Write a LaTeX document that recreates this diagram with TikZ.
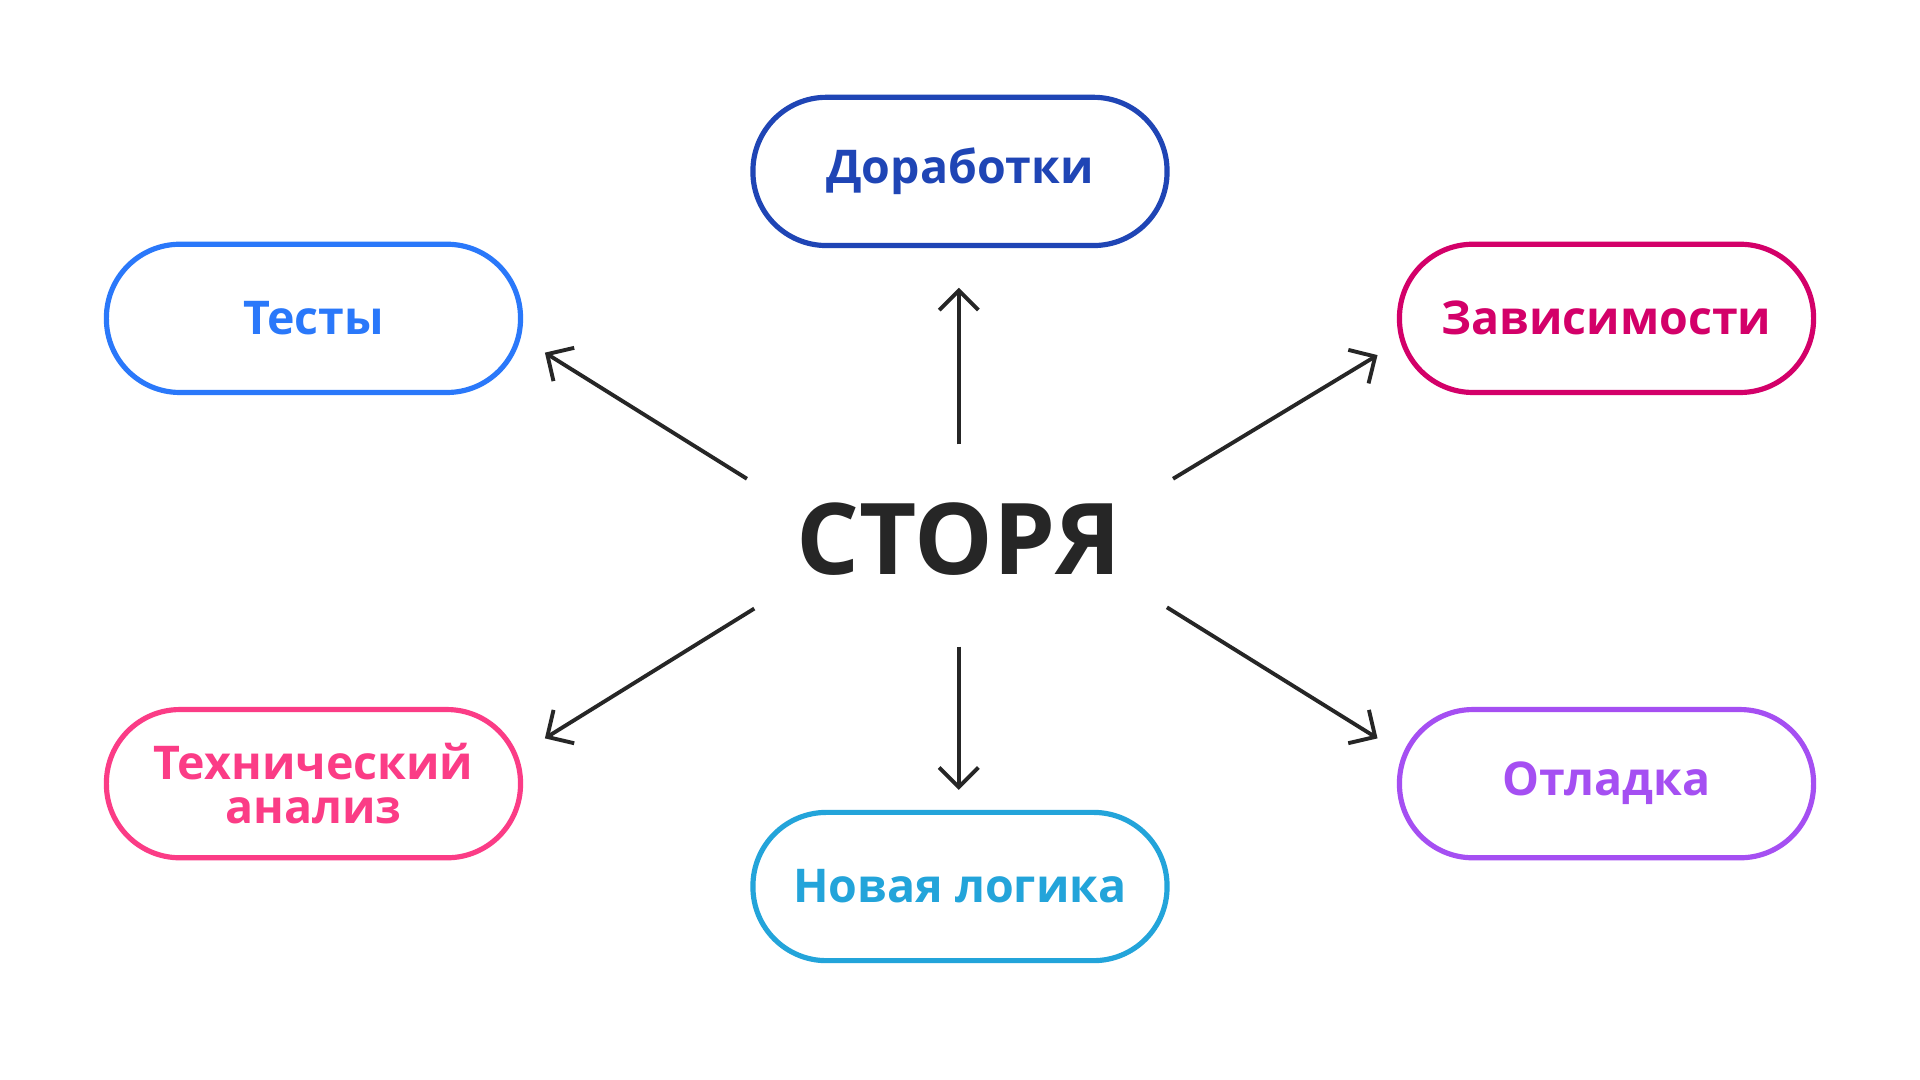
\documentclass[tikz,border=0pt]{standalone}
\usepackage{fontspec}
\setmainfont{Open Sans}
\usetikzlibrary{arrows.meta}
\definecolor{cA}{HTML}{1F45B5}
\definecolor{cB}{HTML}{2A78FA}
\definecolor{cC}{HTML}{D30069}
\definecolor{cD}{HTML}{FB3C86}
\definecolor{cE}{HTML}{A54FF2}
\definecolor{cF}{HTML}{23A4DA}
\definecolor{ink}{HTML}{262626}
\tikzset{
  pill/.style={draw=#1, text=#1, line width=1.2pt, rounded corners=0.6cm, minimum width=3.38cm, minimum height=1.21cm, font=\fontsize{10.8pt}{10.4pt}\selectfont\bfseries, align=center, fill=white},
  arr/.style={draw=ink, line width=0.9pt, -{Straight Barb[length=1.6mm,width=3.2mm]}}
}
\begin{document}
\begin{tikzpicture}[x=0.01cm,y=-0.01cm]
\useasboundingbox[fill=white] (0,0) rectangle (1568,882);
\node[pill=cA] (dor) at (784,140) {Доработки};
\node[pill=cB] (tes) at (256,260) {Тесты};
\node[pill=cC] (zav) at (1312,260) {Зависимости};
\node[pill=cD] (teh) at (256,640) {Технический\\анализ};
\node[pill=cE] (otl) at (1312,640) {Отладка};
\node[pill=cF] (nov) at (784,724) {Новая логика};
\node[text=ink, font=\fontsize{23pt}{26pt}\selectfont\bfseries] (st) at (783,440) {СТОРЯ};
\coordinate (s1) at (783,363); \coordinate (e1) at (783,235);
\coordinate (s2) at (783,528); \coordinate (e2) at (783,645);
\coordinate (s3) at (610,391); \coordinate (e3) at (445,288);
\coordinate (s4) at (958,391); \coordinate (e4) at (1125,290);
\coordinate (s5) at (616,497); \coordinate (e5) at (445,603);
\coordinate (s6) at (953,496); \coordinate (e6) at (1125,603);
\draw[arr] (s1) -- (e1);
\draw[arr] (s2) -- (e2);
\draw[arr] (s3) -- (e3);
\draw[arr] (s4) -- (e4);
\draw[arr] (s5) -- (e5);
\draw[arr] (s6) -- (e6);
\end{tikzpicture}
\end{document}
